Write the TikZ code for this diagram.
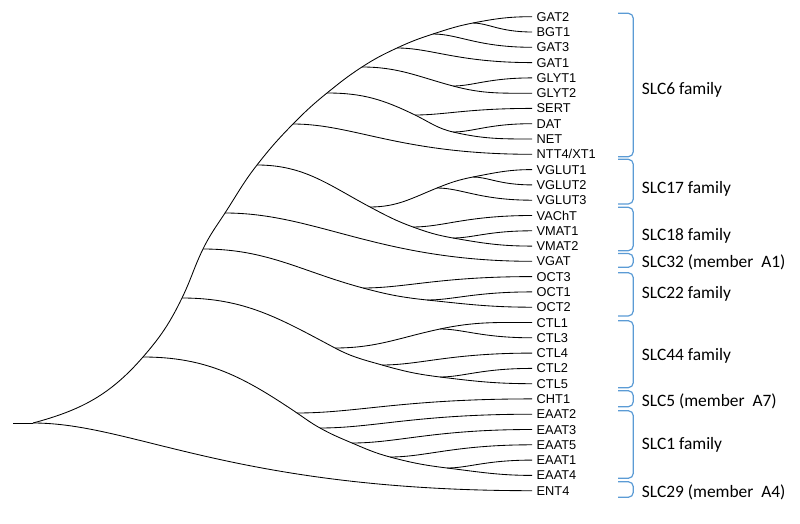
\documentclass[tikz,border=0pt]{standalone}
\usepackage{fontspec}
\newfontfamily\leaffont{Liberation Sans}
\newfontfamily\famfont{Carlito}
\definecolor{bracecol}{HTML}{5B9BD5}
\begin{document}
\begin{tikzpicture}[x=1pt,y=1pt,
  tree/.style={line width=0.85pt, black},
  lf/.style={out=0,in=180,out looseness=0.65,in looseness=1.4},
  leaf/.style={anchor=west, inner xsep=4.5pt, inner ysep=0pt, text height=9.1pt, text depth=0pt, font=\leaffont\fontsize{12.8}{14}\selectfont},
  fam/.style={anchor=base west, inner sep=0pt, font=\famfont\fontsize{17.4}{20}\selectfont},
  bracket/.style={bracecol, line width=1.2pt, rounded corners=5pt}]
\useasboundingbox (0,0) rectangle (800,523);
% leaves
\node[leaf] (GAT2)   at (532,506.3) {GAT2};
\node[leaf] (BGT1)   at (532,491.0) {BGT1};
\node[leaf] (GAT3)   at (532,475.7) {GAT3};
\node[leaf] (GAT1)   at (532,460.4) {GAT1};
\node[leaf] (GLYT1)  at (532,445.1) {GLYT1};
\node[leaf] (GLYT2)  at (532,429.8) {GLYT2};
\node[leaf] (SERT)   at (532,414.6) {SERT};
\node[leaf] (DAT)    at (532,399.3) {DAT};
\node[leaf] (NET)    at (532,384.0) {NET};
\node[leaf] (NTT4)   at (532,368.7) {NTT4/XT1};
\node[leaf] (VGLUT1) at (532,353.4) {VGLUT1};
\node[leaf] (VGLUT2) at (532,338.1) {VGLUT2};
\node[leaf] (VGLUT3) at (532,322.8) {VGLUT3};
\node[leaf] (VAChT)  at (532,307.5) {VAChT};
\node[leaf] (VMAT1)  at (532,292.2) {VMAT1};
\node[leaf] (VMAT2)  at (532,276.9) {VMAT2};
\node[leaf] (VGAT)   at (532,261.7) {VGAT};
\node[leaf] (OCT3)   at (532,246.4) {OCT3};
\node[leaf] (OCT1)   at (532,231.1) {OCT1};
\node[leaf] (OCT2)   at (532,215.8) {OCT2};
\node[leaf] (CTL1)   at (532,200.5) {CTL1};
\node[leaf] (CTL3)   at (532,185.2) {CTL3};
\node[leaf] (CTL4)   at (532,169.9) {CTL4};
\node[leaf] (CTL2)   at (532,154.6) {CTL2};
\node[leaf] (CTL5)   at (532,139.3) {CTL5};
\node[leaf] (CHT1)   at (532,124.1) {CHT1};
\node[leaf] (EAAT2)  at (532,108.8) {EAAT2};
\node[leaf] (EAAT3)  at (532,93.5) {EAAT3};
\node[leaf] (EAAT5)  at (532,78.2) {EAAT5};
\node[leaf] (EAAT1)  at (532,62.9) {EAAT1};
\node[leaf] (EAAT4)  at (532,47.6) {EAAT4};
\node[leaf] (ENT4)   at (532,32.3) {ENT4};
% internal nodes
\coordinate (R0) at (13,100);
\coordinate (root) at (33,100);
\coordinate (N1) at (143,166);
\coordinate (N2) at (182,225);
\coordinate (N3) at (203,274);
\coordinate (N4) at (225,310);
\coordinate (N5) at (257,358);
\coordinate (N6) at (293,399);
\coordinate (S2) at (327,430);
\coordinate (S3) at (362,456);
\coordinate (S4) at (397,475);
\coordinate (S5) at (433,489);
\coordinate (S6) at (473,500);
\coordinate (E0) at (297,110);
\coordinate (E1) at (320,95);
\coordinate (E2) at (352,80);
\coordinate (E3) at (390,66);
\coordinate (E4) at (447,55);
\coordinate (C0) at (335,175);
\coordinate (C1) at (440,194);
\coordinate (C2) at (382,158);
\coordinate (C3) at (440,146);
\coordinate (O0) at (363,235);
\coordinate (O1) at (427,223);
\coordinate (V0) at (370,316);
\coordinate (V1) at (413,296);
\coordinate (V2) at (453,285);
\coordinate (G0) at (437,335);
\coordinate (G1) at (473,346);
\coordinate (SD0) at (415,408);
\coordinate (SD1) at (453,391);
\coordinate (GL) at (453,437);
% main spine
\draw[tree] (R0) -- (root);
\draw[tree] (root) to[out=15,in=229] (N1) to[out=49,in=244] (N2) to[out=64,in=244] (N3)
  to[out=64,in=237] (N4) to[out=57,in=232] (N5) to[out=52,in=225.5] (N6)
  to[out=45.5,in=219] (S2) to[out=39,in=213] (S3) to[out=33,in=205] (S4)
  to[out=25,in=198] (S5) to[out=18,in=191] (S6) to[out=11,in=180] (GAT2.west);
\draw[tree] (root) to[out=0,in=180,out looseness=0.51,in looseness=1.52] (ENT4.west);
% SLC1 / SLC5
\draw[tree] (N1) to[out=0,in=146] (E0) to[out=-34,in=151] (E1) to[out=-29,in=157] (E2)
  to[out=-23,in=165] (E3) to[out=-15,in=173] (E4) to[out=-7,in=180] (EAAT4.west);
\draw[tree] (E0) to[lf] (CHT1.west);
\draw[tree] (E1) to[lf] (EAAT2.west);
\draw[tree] (E2) to[lf] (EAAT3.west);
\draw[tree] (E3) to[lf] (EAAT5.west);
\draw[tree] (E4) to[lf] (EAAT1.west);
% SLC44
\draw[tree] (N2) to[out=0,in=152] (C0) to[out=-28,in=164] (C2) to[out=-16,in=173] (C3) to[out=-7,in=180] (CTL5.west);
\draw[tree] (C0) to[out=0,in=192] (C1) to[out=12,in=180] (CTL1.west);
\draw[tree] (C1) to[lf] (CTL3.west);
\draw[tree] (C2) to[lf] (CTL4.west);
\draw[tree] (C3) to[lf] (CTL2.west);
% SLC22
\draw[tree] (N3) to[out=0,in=165] (O0) to[out=-15,in=174] (O1) to[out=-6,in=180] (OCT2.west);
\draw[tree] (O0) to[lf] (OCT3.west);
\draw[tree] (O1) to[lf] (OCT1.west);
% SLC32
\draw[tree] (N4) to[out=0,in=180,out looseness=0.75,in looseness=1.26] (VGAT.west);
% SLC17 / SLC18
\draw[tree] (N5) to[out=0,in=152] (V0) to[out=-28,in=160] (V1) to[out=-20,in=170] (V2) to[out=-10,in=180] (VMAT2.west);
\draw[tree] (V0) to[out=0,in=202] (G0) to[out=22,in=191] (G1) to[out=11,in=180] (VGLUT1.west);
\draw[tree] (G0) to[lf] (VGLUT3.west);
\draw[tree] (G1) to[lf] (VGLUT2.west);
\draw[tree] (V1) to[lf] (VAChT.west);
\draw[tree] (V2) to[lf] (VMAT1.west);
% SLC6
\draw[tree] (N6) to[lf] (NTT4.west);
\draw[tree] (S2) to[out=0,in=154] (SD0) to[out=-26,in=167] (SD1) to[out=-13,in=180] (NET.west);
\draw[tree] (SD0) to[lf] (SERT.west);
\draw[tree] (SD1) to[lf] (DAT.west);
\draw[tree] (S3) to[out=0,in=165] (GL) to[out=-15,in=180] (GLYT2.west);
\draw[tree] (GL) to[lf] (GLYT1.west);
\draw[tree] (S4) to[lf] (GAT1.west);
\draw[tree] (S5) to[lf] (GAT3.west);
\draw[tree] (S6) to[lf] (BGT1.west);
% brackets
\draw[bracket] (618,509.7) -- (633.3,509.7) -- (633.3,366.3) -- (618,366.3);
\draw[bracket] (618,363.7) -- (633.3,363.7) -- (633.3,319) -- (618,319);
\draw[bracket] (618,315.7) -- (633.3,315.7) -- (633.3,272.3) -- (618,272.3);
\draw[bracket] (618,269.5) -- (633.3,269.5) -- (633.3,255.7) -- (618,255.7);
\draw[bracket] (618,250.3) -- (633.3,250.3) -- (633.3,207) -- (618,207);
\draw[bracket] (618,202.3) -- (633.3,202.3) -- (633.3,135.3) -- (618,135.3);
\draw[bracket] (618,132.3) -- (633.3,132.3) -- (633.3,116.3) -- (618,116.3);
\draw[bracket] (618,112.3) -- (633.3,112.3) -- (633.3,44.7) -- (618,44.7);
\draw[bracket] (618,41.3) -- (633.3,41.3) -- (633.3,25.7) -- (618,25.7);
% family labels
\node[fam] (f6)  at (641.7,428.7) {SLC6 family};
\node[fam] (f17) at (641.7,329.7) {SLC17 family};
\node[fam] (f18) at (641.7,283) {SLC18 family};
\node[fam] (f32) at (641.7,256) {SLC32 (member~~A1)};
\node[fam] (f22) at (641.7,224.7) {SLC22 family};
\node[fam] (f44) at (641.7,163) {SLC44 family};
\node[fam] (f5)  at (641.7,116.7) {SLC5 (member~~A7)};
\node[fam] (f1)  at (641.7,73.7) {SLC1 family};
\node[fam] (f29) at (641.7,25.7) {SLC29 (member~~A4)};
\end{tikzpicture}
\end{document}
